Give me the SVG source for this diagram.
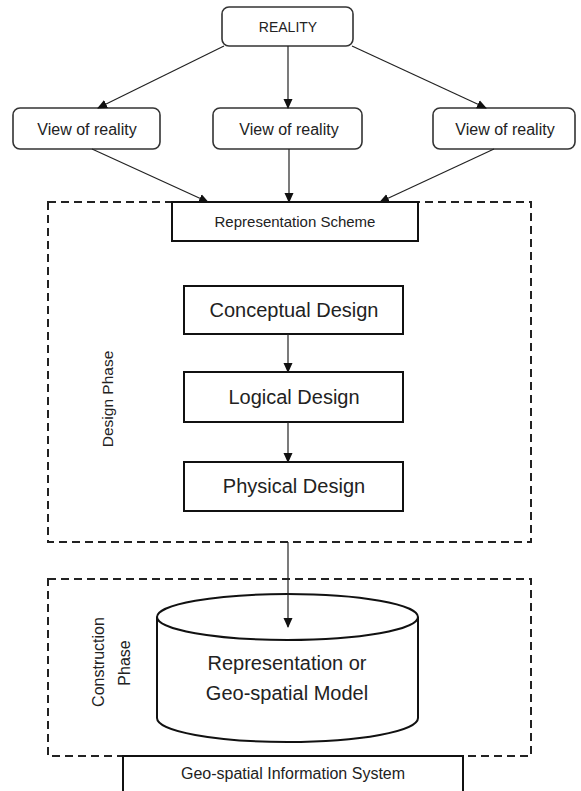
<svg xmlns="http://www.w3.org/2000/svg" width="581" height="791" viewBox="0 0 581 791">
<defs>
<marker id="ah" markerWidth="10" markerHeight="10" refX="9" refY="5" orient="auto" markerUnits="userSpaceOnUse">
<path d="M0,0.5 L10,5 L0,9.5 Z" fill="#111"/>
</marker>
<style>
text{font-family:"Liberation Sans",Arial,sans-serif;fill:#222;text-anchor:middle;dominant-baseline:central}
.rr{fill:#fff;stroke:#333;stroke-width:1.6}
.bx{fill:#fff;stroke:#111;stroke-width:2}
.dash{fill:none;stroke:#222;stroke-width:2;stroke-dasharray:8 5}
.c{stroke:#222;stroke-width:1.2;fill:none;marker-end:url(#ah)}
</style>
</defs>
<rect width="581" height="791" fill="#fff"/>
<g id="design-phase">
<rect class="dash" x="48" y="202" width="483" height="340"/>
<text transform="translate(107,399) rotate(-90)" font-size="15.5">Design Phase</text>
</g>
<g id="construction-phase">
<rect class="dash" x="48" y="579" width="483" height="177"/>
<text transform="translate(98,662) rotate(-90)" font-size="16">Construction</text>
<text transform="translate(124,663) rotate(-90)" font-size="16">Phase</text>
</g>
<g id="reality">
<rect class="rr" x="222" y="7" width="131" height="39" rx="7"/>
<text x="288" y="27" font-size="14">REALITY</text>
</g>
<g id="view-left">
<rect class="rr" x="13" y="108" width="147" height="41" rx="7"/>
<text x="87" y="129" font-size="16">View of reality</text>
</g>
<g id="view-middle">
<rect class="rr" x="213" y="108" width="149" height="41" rx="7"/>
<text x="289" y="129" font-size="16">View of reality</text>
</g>
<g id="view-right">
<rect class="rr" x="433" y="108" width="142" height="41" rx="7"/>
<text x="505" y="129" font-size="16">View of reality</text>
</g>
<g id="representation-scheme">
<rect class="bx" x="172" y="202" width="246" height="39"/>
<text x="295" y="221" font-size="15">Representation Scheme</text>
</g>
<g id="conceptual-design">
<rect class="bx" x="184" y="286" width="219" height="48"/>
<text x="294" y="310" font-size="20">Conceptual Design</text>
</g>
<g id="logical-design">
<rect class="bx" x="184" y="372" width="219" height="50"/>
<text x="294" y="397" font-size="20">Logical Design</text>
</g>
<g id="physical-design">
<rect class="bx" x="184" y="462" width="219" height="49"/>
<text x="294" y="486" font-size="20">Physical Design</text>
</g>
<g id="geo-spatial-model">
<path d="M157,617 L157,718 A130.5,24 0 0 0 418,718 L418,617" fill="#fff" stroke="#111" stroke-width="2"/>
<ellipse cx="287.5" cy="617" rx="130.5" ry="23" fill="#fff" stroke="#111" stroke-width="2"/>
<text x="287" y="663" font-size="20">Representation or</text>
<text x="287" y="693" font-size="20">Geo-spatial Model</text>
</g>
<g id="gis">
<rect class="bx" x="123" y="756" width="340" height="50"/>
<text x="293" y="773" font-size="16">Geo-spatial Information System</text>
</g>
<g id="connectors">
<line class="c" x1="224" y1="46" x2="98" y2="108"/>
<line class="c" x1="288" y1="46" x2="288" y2="108"/>
<line class="c" x1="352" y1="46" x2="486" y2="108"/>
<line class="c" x1="92" y1="149" x2="208" y2="202"/>
<line class="c" x1="289" y1="149" x2="289" y2="202"/>
<line class="c" x1="494" y1="149" x2="380" y2="202"/>
<line class="c" x1="288" y1="334" x2="288" y2="372"/>
<line class="c" x1="288" y1="422" x2="288" y2="462"/>
<line class="c" x1="288" y1="542" x2="288" y2="627"/>
</g>
</svg>
